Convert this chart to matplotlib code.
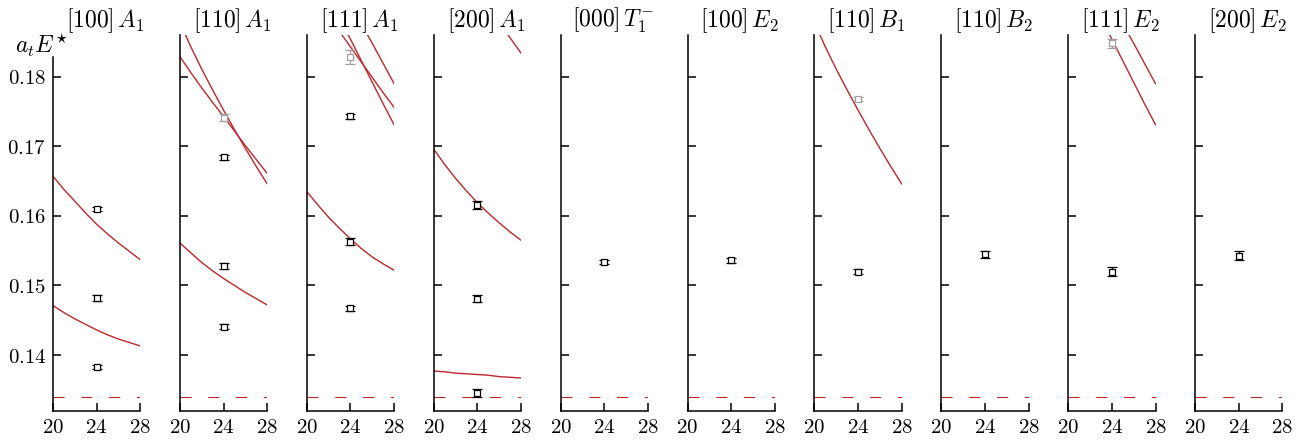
import matplotlib
matplotlib.use("Agg")
import matplotlib.pyplot as plt
import numpy as np

plt.rcParams['mathtext.fontset'] = 'cm'
plt.rcParams['font.family'] = ['DejaVu Serif']

# ---------------- data ----------------
titles = [r'$[100]\,A_1$', r'$[110]\,A_1$', r'$[111]\,A_1$', r'$[200]\,A_1$',
          r'$[000]\,T_1^{-}$', r'$[100]\,E_2$', r'$[110]\,B_1$', r'$[110]\,B_2$',
          r'$[111]\,E_2$', r'$[200]\,E_2$']

L_full = [20, 21, 22, 23, 24, 25, 26, 27, 28]
L_22 = [22, 23, 24, 25, 26, 27, 28]
L_24 = [24, 25, 26, 27, 28]
L_26 = [26, 27, 28]

c100_up = [.1657, .1638, .1621, .1604, .1588, .1574, .1561, .1549, .1537]
c100_lo = [.1471, .1461, .1452, .1444, .1436, .1429, .1423, .1418, .1413]
c110_a = [.1878, .1843, .1811, .1781, .1752, .1724, .1697, .1671, .1646]
c110_b = [.1829, .1806, .1784, .1763, .1743, .1722, .1701, .1681, .1661]
c110_lo = [.1561, .1547, .1533, .1521, .1510, .1500, .1490, .1481, .1472]
c111_lo = [.1635, .1616, .1598, .1582, .1567, .1553, .1541, .1531, .1522]
c111_a = [.1887, .1865, .1843, .1821, .1799, .1777, .1756]
c111_b = [.1915, .1884, .1854, .1823, .1792, .1761, .1731]
c111_c = [.1905, .1876, .1848, .1819, .1790]
c200_up = [.1878, .1856, .1834]
c200_mid = [.1696, .1674, .1654, .1636, .1619, .1604, .1590, .1577, .1565]
c200_lo = [.1377, .1376, .1374, .1373, .1372, .1371, .1369, .1368, .1367]

curves = [
    [(L_full, c100_up), (L_full, c100_lo)],
    [(L_full, c110_a), (L_full, c110_b), (L_full, c110_lo)],
    [(L_full, c111_lo), (L_22, c111_a), (L_22, c111_b), (L_24, c111_c)],
    [(L_26, c200_up), (L_full, c200_mid), (L_full, c200_lo)],
    [],
    [],
    [(L_full, c110_a)],
    [],
    [(L_22, c111_b), (L_24, c111_c)],
    [],
]

L_data = 24
black_E = [[.1383, .1482, .1610], [.1441, .1528, .1684], [.1467, .1563, .1743],
           [.1345, .1481, .1616], [.1534], [.1536], [.1520], [.1545], [.1520], [.1543]]
black_err = [[.0003, .0004, .0003], [.0003, .0005, .0004], [.0004, .0005, .0004],
             [.0006, .0005, .0006], [.0003], [.0004], [.0004], [.0005], [.0006], [.0006]]
grey_E = [[], [.1741], [.1828], [], [], [], [.1768], [], [.1848], []]
grey_err = [[], [.0005], [.0010], [], [], [], [.0003], [], [.0006], []]

threshold = 0.1339
xticks = [20, 24, 28]
yticks = [0.14, 0.15, 0.16, 0.17, 0.18]

# ---------------- plot ----------------
W, H = 1306, 441
fig = plt.figure(figsize=(W / 100, H / 100), dpi=100)
red = '#c0262d'
grey = '#a0a0a0'

left0, step, width = 53, 126.9, 87.3
top, bottom = 35, 410.7

for i in range(10):
    ax = fig.add_axes([(left0 + step * i) / W, (H - bottom) / H,
                       width / W, (bottom - top) / H])
    ax.set_xlim(20, 28)
    ax.set_ylim(0.132, 0.186)
    for s in ['top', 'right']:
        ax.spines[s].set_visible(False)
    for s in ['left', 'bottom']:
        ax.spines[s].set_linewidth(1.1)
    ax.tick_params(direction='in', length=6, width=1.1, labelsize=15, pad=5)
    ax.set_xticks(xticks)
    ax.set_xticklabels([r'$%d$' % t for t in xticks])
    ax.set_yticks(yticks)
    if i == 0:
        ax.set_yticklabels([r'$%.2f$' % t for t in yticks])
        ax.spines['left'].set_bounds(0.132, 0.1828)
        ax.text(-0.13, 0.972, r'$a_t E^{\star}$', transform=ax.transAxes,
                fontsize=17, ha='center', va='center')
    else:
        ax.set_yticklabels([])

    ax.plot([20, 28], [threshold, threshold], color=red, lw=0.8,
            dashes=(10, 15), dash_capstyle='butt')
    for xs, ys in curves[i]:
        ax.plot(xs, ys, color=red, lw=1.0)

    if grey_E[i]:
        ax.errorbar([L_data] * len(grey_E[i]), grey_E[i], yerr=grey_err[i],
                    fmt='s', ms=5, mfc='white', mec=grey, mew=0.9,
                    ecolor=grey, elinewidth=0.9, capsize=3.6, capthick=0.9)
    ax.errorbar([L_data] * len(black_E[i]), black_E[i], yerr=black_err[i],
                fmt='s', ms=5, mfc='white', mec='black', mew=0.9,
                ecolor='black', elinewidth=0.9, capsize=3.6, capthick=0.9)

    ax.set_title(titles[i], fontsize=17, x=0.6, pad=4)

fig.savefig('out.png', dpi=100)
